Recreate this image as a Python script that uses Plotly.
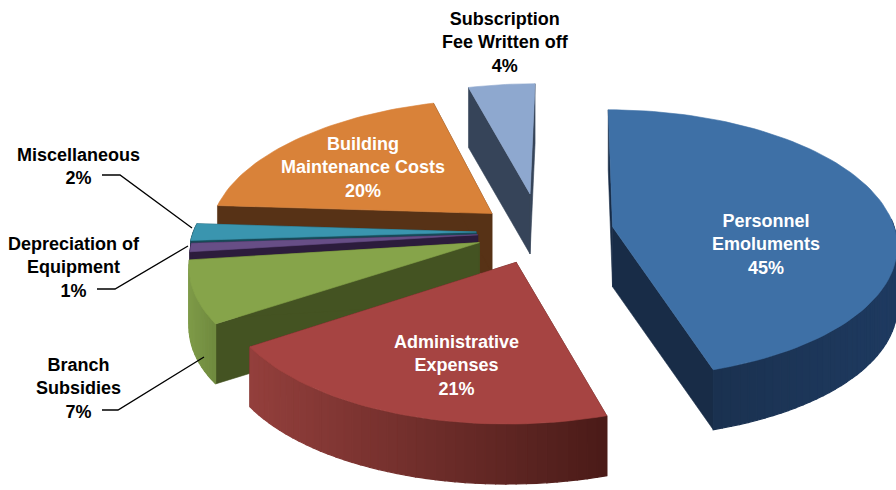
import numpy as np
import plotly.graph_objects as go

# ---- data ----
categories = ["Personnel Emoluments", "Administrative Expenses", "Branch Subsidies",
              "Depreciation of Equipment", "Miscellaneous", "Building Maintenance Costs",
              "Subscription Fee Written off"]
values = [45.2, 20.4, 7.4, 1, 2, 19.6, 4.4]

# ---- styling ----
top_colors = ["#3E70A6", "#A64442", "#86A44A", "#674E86", "#3A95AF", "#D98239", "#8EA8CF"]
edge_colors = ["#182C47", "#4A1B18", "#445322", "#2C1C3C", "#174A58", "#573216", "#364459"]
wall_left = ["#182C47", "#933F3C", "#7E9A48", "#2C1C3C", "#174A58", "#573216", "#364459"]
wall_right = ["#1E3A60", "#4A1B18", "#6F8A3E", "#2C1C3C", "#174A58", "#573216", "#364459"]
pulls = [0.26, 0.235, 0.225, 0.22, 0.225, 0.225, 0.30]
draw_order = [6, 5, 4, 3, 2, 1, 0]

CX, CY, RX, RY, DEPTH = 540, 232, 283, 133, 60
PERSP_X, PERSP_Y, VANISH_X = 0.13, 0.126, 575


def project(u, v, z=0.0):
    sx = 1.0 / (1.0 + PERSP_X * v)
    sy = 1.0 / (1.0 + PERSP_Y * v)
    return VANISH_X + (CX + RX * u - VANISH_X) * sx, CY - RY * v * sy + z * DEPTH


def hex2rgb(h):
    return np.array([int(h[i:i + 2], 16) for i in (1, 3, 5)], float)


def mix(a, b, t):
    c = hex2rgb(a) * (1 - t) + hex2rgb(b) * t
    return f"rgb({c[0]:.0f},{c[1]:.0f},{c[2]:.0f})"


def poly(xs, ys, color, w=0.6):
    return go.Scatter(x=list(xs), y=list(ys), mode="lines", fill="toself", fillcolor=color,
                      line=dict(color=color, width=w), hoverinfo="skip", showlegend=False)


fig = go.Figure()
total = sum(values)
edges = np.concatenate([[0], np.cumsum(values)]) / total * 2 * np.pi

for i in draw_order:
    a0, a1 = edges[i], edges[i + 1]
    mid = (a0 + a1) / 2
    au, av = pulls[i] * np.sin(mid), pulls[i] * np.cos(mid)
    n = max(4, int((a1 - a0) / 0.03))
    th = np.linspace(a0, a1, n + 1)
    ou, ov = au + np.sin(th), av + np.cos(th)

    # radial walls
    for k in (0, -1):
        x0, y0 = project(au, av)
        x1, y1 = project(ou[k], ov[k])
        x2, y2 = project(ou[k], ov[k], 1)
        x3, y3 = project(au, av, 1)
        fig.add_trace(poly([x0, x1, x2, x3, x0], [y0, y1, y2, y3, y0], edge_colors[i]))

    # outer wall, shaded from left to right
    xt, yt = project(ou, ov)
    xb, yb = project(ou, ov, 1)
    lo, hi = xt.min(), xt.max()
    for k in range(n):
        # only the part of the rim facing the viewer is visible
        if np.cos((th[k] + th[k + 1]) / 2) > 0.05:
            continue
        t = ((xt[k] + xt[k + 1]) / 2 - lo) / max(hi - lo, 1)
        fig.add_trace(poly([xt[k], xt[k + 1], xb[k + 1], xb[k], xt[k]],
                           [yt[k], yt[k + 1], yb[k + 1], yb[k], yt[k]],
                           mix(wall_left[i], wall_right[i], t), w=1.2))

    # top face
    x0, y0 = project(au, av)
    fig.add_trace(poly(np.r_[x0, xt, x0], np.r_[y0, yt, y0], top_colors[i]))

# ---- labels ----
inside = [("Personnel<br>Emoluments<br>45%", 766, 244, "white"),
          ("Administrative<br>Expenses<br>21%", 456, 365, "white"),
          ("Building<br>Maintenance Costs<br>20%", 363, 167, "white"),
          ("Subscription<br>Fee Written off<br>4%", 505, 42, "black"),
          ("Miscellaneous<br>2%", 78, 166, "black"),
          ("Depreciation of<br>Equipment<br>1%", 74, 267, "black"),
          ("Branch<br>Subsidies<br>7%", 78, 388, "black")]
for txt, x, y, col in inside:
    fig.add_annotation(x=x, y=y, text=f"<b>{txt}</b>", showarrow=False, xref="x", yref="y",
                       align="center", font=dict(family="Liberation Sans", size=18, color=col))

leaders = [[(102, 175), (120, 175), (192, 228)],
           [(97, 289), (115, 289), (188, 246)],
           [(102, 410), (118, 410), (204, 357)]]
for pts in leaders:
    path = "M " + " L ".join(f"{a},{b}" for a, b in pts)
    fig.add_shape(type="path", path=path, xref="x", yref="y",
                  line=dict(color="black", width=1.3))

fig.update_layout(width=896, height=490, margin=dict(l=0, r=0, t=0, b=0),
                  paper_bgcolor="white", plot_bgcolor="white", showlegend=False,
                  xaxis=dict(range=[0, 896], visible=False, fixedrange=True),
                  yaxis=dict(range=[490, 0], visible=False, fixedrange=True))
fig.write_html("out.html", config={"displayModeBar": False},
               post_script="document.body.style.margin='0';")
